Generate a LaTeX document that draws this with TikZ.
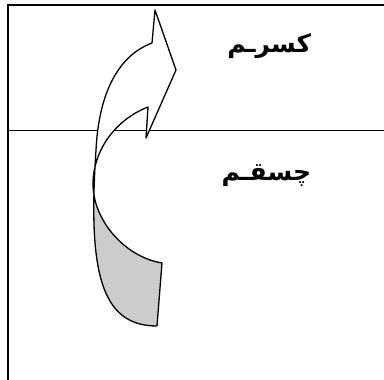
\documentclass[tikz,border=0pt]{standalone}
\usepackage{fontspec}
\usepackage{tikz}
\TeXXeTstate=1
\newfontfamily\arabicfont[Script=Arabic]{DejaVu Sans}
\newcommand{\twistband}{(148,107) -- (146,138) -- (176,70) -- (155,10) -- (152,43)
  .. controls (120,55) and (99,90) .. (96,150)
  .. controls (88,270) and (100,326) .. (157,326) -- (162,263)
  .. controls (125,257) and (92,220) .. (93,182)
  .. controls (94,150) and (115,120) .. (148,107) -- cycle}

\begin{document}
\begin{tikzpicture}[x=1pt, y=-1pt, line width=1pt,
    word/.style={anchor=east, font=\arabicfont\bfseries\fontsize{25}{28}\selectfont}]
  \useasboundingbox (0,0) rectangle (384,380);
  % frame
  \draw (8,380) -- (8,5) -- (384,5);
  \draw (8,130) -- (384,130);

  % twisted arrow
  \fill[white] \twistband;
  \begin{scope}
    \clip (0,178) rectangle (384,380);
    \fill[gray!40] \twistband;
  \end{scope}
  \draw[line width=1.3pt, line join=round] \twistband;

  \node[word] (upper) at (315,46) {\beginR کسرـم\endR};
  \node[word] (lower) at (315,176) {\beginR چسقـم\endR};
\end{tikzpicture}
\end{document}
